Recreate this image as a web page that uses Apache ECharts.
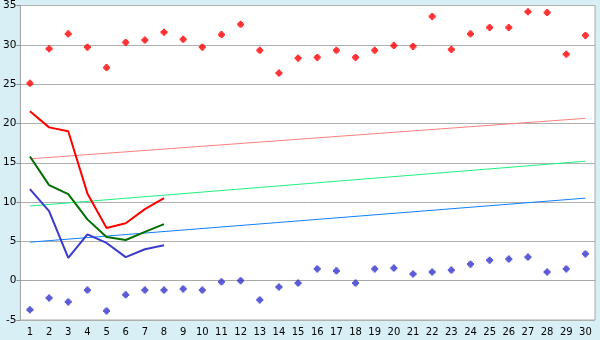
<!DOCTYPE html>
<html><head><meta charset="utf-8">
<script src="https://cdn.jsdelivr.net/npm/echarts@6/dist/echarts.min.js"></script>
<style>html,body{margin:0;padding:0;background:#d9eff6}#c{width:600px;height:340px}</style>
</head><body><div id="c"></div>
<script>
const categories = Array.from({length:30},(_, i)=>String(i+1));
const yTicks = [-5,0,5,10,15,20,25,30,35];
const highScatter = [25.1,29.5,31.4,29.7,27.1,30.3,30.6,31.6,30.7,29.7,31.3,32.6,29.3,26.4,28.3,28.4,29.3,28.4,29.3,29.9,29.8,33.6,29.4,31.4,32.2,32.2,34.2,34.1,28.8,31.2];
const lowScatter = [-3.7,-2.2,-2.7,-1.2,-3.85,-1.8,-1.2,-1.2,-1.05,-1.2,-0.15,0.0,-2.45,-0.8,-0.3,1.5,1.25,-0.3,1.5,1.6,0.85,1.1,1.35,2.1,2.6,2.75,3.0,1.1,1.5,3.4];
const redLine = [21.55,19.5,19.0,11.1,6.7,7.3,9.1,10.5];
const greenLine = [15.8,12.15,11.0,7.8,5.55,5.17,6.2,7.2];
const blueLine = [11.65,8.85,2.9,5.9,4.8,3.0,4.0,4.5];
const pinkTrend = [[0,15.5],[29,20.65]];
const lightGreenTrend = [[0,9.5],[29,15.2]];
const blueTrend = [[0,4.9],[29,10.5]];

const marker = 'path://M2,0H4V1H5V2H6V4H5V5H4V6H2V5H1V4H0V2H1V1H2Z';
const chart = echarts.init(document.getElementById('c'));
const lineS = (data,color,w)=>({type:'line',data,symbol:'none',lineStyle:{color,width:w},itemStyle:{color},animation:false,z:3});
chart.setOption({
  backgroundColor:'#d9eff6',
  animation:false,
  grid:{left:20,right:5,top:5,bottom:20,show:true,backgroundColor:'#ffffff',borderColor:'#a8a8a8',borderWidth:1},
  xAxis:{type:'category',data:categories,boundaryGap:true,
    axisLine:{lineStyle:{color:'#a8a8a8'}},
    axisTick:{alignWithLabel:true,length:5,lineStyle:{color:'#909090'}},
    axisLabel:{color:'#000',fontFamily:'DejaVu Sans',fontSize:10,margin:7,interval:0},
    splitLine:{show:false}},
  yAxis:{type:'value',min:yTicks[0],max:yTicks[yTicks.length-1],interval:5,
    axisLine:{show:true,lineStyle:{color:'#a8a8a8'}},
    axisTick:{show:true,length:4,lineStyle:{color:'#909090'}},
    axisLabel:{color:'#000',fontFamily:'DejaVu Sans',fontSize:10.5,margin:4},
    splitLine:{lineStyle:{color:'#b0b0b0'}}},
  series:[
    lineS(pinkTrend,'#ff8080',1),
    lineS(lightGreenTrend,'#20f080',1),
    lineS(blueTrend,'#1080ff',1),
    lineS(redLine,'#ff0000',2),
    lineS(greenLine,'#006e00',2),
    lineS(blueLine,'#3a3acc',2),
    {type:'scatter',data:highScatter,symbol:marker,symbolSize:7,itemStyle:{color:'#ff0000'},z:4},
    {type:'scatter',data:lowScatter,symbol:marker,symbolSize:7,itemStyle:{color:'#3333cc'},z:4}
  ]
});
</script></body></html>
